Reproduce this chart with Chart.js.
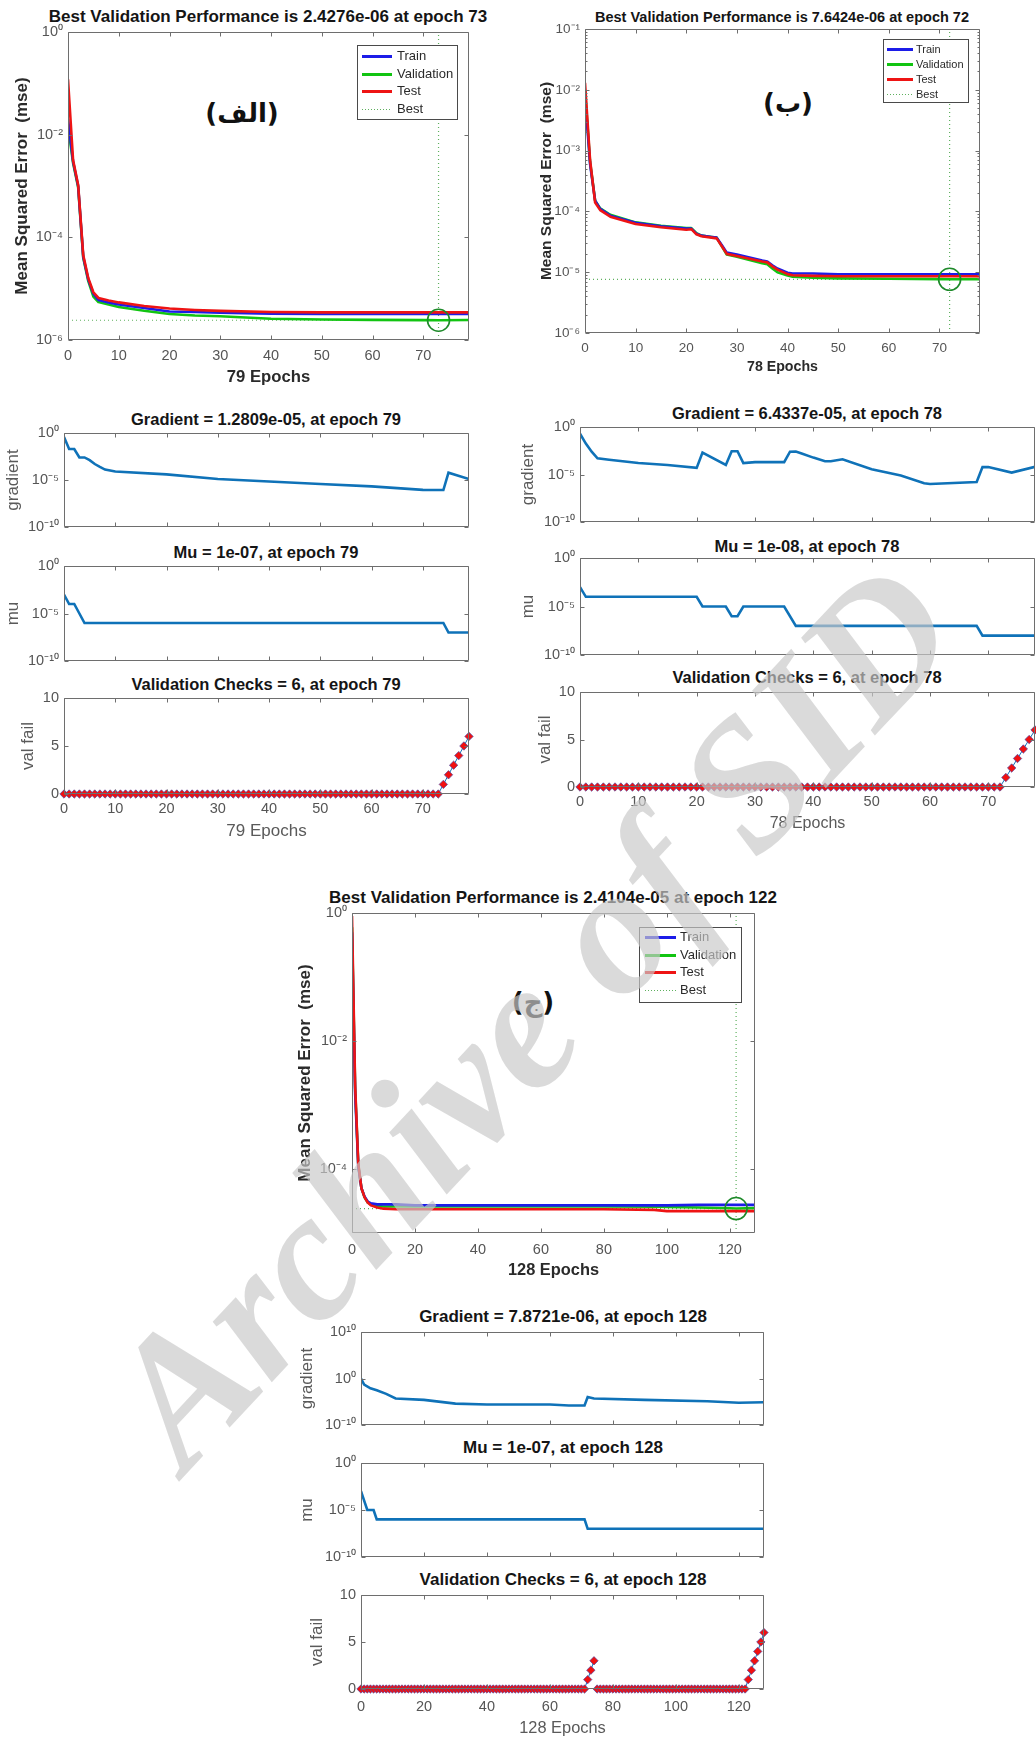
<!DOCTYPE html>
<html>
<head>
<meta charset="utf-8">
<script src="https://cdn.jsdelivr.net/npm/chart.js@4.4.0/dist/chart.umd.min.js"></script>
<style>
  body { margin: 0; background: #fff; }
  #page { position: relative; width: 1036px; height: 1738px; overflow: hidden; background: #fff;
          font-family: "Liberation Sans", Arial, sans-serif; }
  #page canvas { position: absolute; }
  .t { position: absolute; transform: translate(-50%, -50%); white-space: nowrap; font-weight: bold; color: #151515; }
  .tag { position: absolute; transform: translate(-50%, -50%); font-family: "DejaVu Sans", sans-serif;
         font-weight: bold; font-size: 26px; color: #111; white-space: nowrap; }
  #mark { position: absolute; left: 0; top: 0; pointer-events: none; }
</style>
</head>
<body>
<div id="page">
  <div class="t" style="left:268px;top:17px;font-size:17px">Best Validation Performance is 2.4276e-06 at epoch 73</div>
  <div class="t" style="left:782px;top:17px;font-size:14.5px">Best Validation Performance is 7.6424e-06 at epoch 72</div>
  <div class="t" style="left:553px;top:898px;font-size:17px">Best Validation Performance is 2.4104e-05 at epoch 122</div>

  <div class="t" style="left:266px;top:419px;font-size:16.5px">Gradient = 1.2809e-05, at epoch 79</div>
  <div class="t" style="left:266px;top:552px;font-size:16.5px">Mu = 1e-07, at epoch 79</div>
  <div class="t" style="left:266px;top:684px;font-size:16.5px">Validation Checks = 6, at epoch 79</div>

  <div class="t" style="left:807px;top:413px;font-size:16.5px">Gradient = 6.4337e-05, at epoch 78</div>
  <div class="t" style="left:807px;top:546px;font-size:16.5px">Mu = 1e-08, at epoch 78</div>
  <div class="t" style="left:807px;top:677px;font-size:16.5px">Validation Checks = 6, at epoch 78</div>

  <div class="t" style="left:563px;top:1317px;font-size:17px">Gradient = 7.8721e-06, at epoch 128</div>
  <div class="t" style="left:563px;top:1448px;font-size:17px">Mu = 1e-07, at epoch 128</div>
  <div class="t" style="left:563px;top:1580px;font-size:17px">Validation Checks = 6, at epoch 128</div>

  <div class="tag" style="left:242px;top:113px" dir="rtl">(الف)</div>
  <div class="tag" style="left:788px;top:103px" dir="rtl">(ب)</div>
  <div class="tag" style="left:533px;top:1002px" dir="rtl">(ج)</div>
</div>

<script>
// ---- (الف) performance, 79 epochs ----
const perfEpochsA = [0, 1, 2, 3, 4, 5, 6, 8, 10, 15, 20, 25, 30, 40, 50, 60, 70, 73, 79];
const perfTrainA = [2.0e-2, 3.0e-3, 1.0e-3, 4.2e-5, 1.5e-5, 8.0e-6, 6.0e-6, 5.4e-6, 4.9e-6, 4.2e-6, 3.6e-6, 3.5e-6, 3.4e-6, 3.25e-6, 3.2e-6, 3.2e-6, 3.2e-6, 3.2e-6, 3.2e-6];
const perfValA = [1.5e-2, 2.8e-3, 9.5e-4, 4.0e-5, 1.4e-5, 7.0e-6, 5.5e-6, 4.9e-6, 4.4e-6, 3.7e-6, 3.2e-6, 3.0e-6, 2.9e-6, 2.6e-6, 2.5e-6, 2.47e-6, 2.44e-6, 2.4276e-6, 2.45e-6];
const perfTestA = [1.2e-1, 3.2e-3, 1.05e-3, 4.5e-5, 1.6e-5, 8.5e-6, 6.6e-6, 5.9e-6, 5.4e-6, 4.6e-6, 4.1e-6, 3.85e-6, 3.7e-6, 3.5e-6, 3.45e-6, 3.45e-6, 3.45e-6, 3.45e-6, 3.45e-6];
const bestEpochA = 73;
const bestPerfA = 2.4276e-6;

// ---- (ب) performance, 78 epochs ----
const perfEpochsB = [0, 1, 2, 3, 5, 10, 15, 20, 21, 22, 23, 25, 26, 27, 28, 30, 35, 36, 37, 38, 40, 41, 45, 50, 60, 70, 72, 78];
const perfTrainB = [8e-3, 6e-4, 1.5e-4, 1.1e-4, 8.5e-5, 6.5e-5, 5.7e-5, 5.2e-5, 5.2e-5, 4.3e-5, 4.0e-5, 3.8e-5, 3.7e-5, 2.8e-5, 2.1e-5, 1.95e-5, 1.55e-5, 1.5e-5, 1.3e-5, 1.15e-5, 9.8e-6, 9.5e-6, 9.5e-6, 9.2e-6, 9.2e-6, 9.2e-6, 9.2e-6, 9.2e-6];
const perfValB = [1e-2, 6.5e-4, 1.5e-4, 1.12e-4, 8.8e-5, 6.6e-5, 5.8e-5, 5.3e-5, 5.3e-5, 4.4e-5, 4.0e-5, 3.8e-5, 3.7e-5, 2.7e-5, 1.95e-5, 1.8e-5, 1.4e-5, 1.35e-5, 1.15e-5, 1.0e-5, 8.8e-6, 8.4e-6, 8.1e-6, 7.9e-6, 7.8e-6, 7.7e-6, 7.6424e-6, 7.7e-6];
const perfTestB = [1.3e-2, 7e-4, 1.4e-4, 1.05e-4, 8.2e-5, 6.2e-5, 5.5e-5, 5.0e-5, 5.1e-5, 4.2e-5, 3.9e-5, 3.7e-5, 3.6e-5, 2.7e-5, 2.0e-5, 1.85e-5, 1.5e-5, 1.45e-5, 1.25e-5, 1.1e-5, 9.3e-6, 8.9e-6, 8.7e-6, 8.6e-6, 8.6e-6, 8.6e-6, 8.6e-6, 8.6e-6];
const bestEpochB = 72;
const bestPerfB = 7.6424e-6;

// ---- (ج) performance, 128 epochs ----
const perfEpochsC = [0, 1, 2, 3, 4, 5, 6, 8, 10, 14, 20, 40, 60, 80, 96, 100, 110, 120, 122, 128];
const perfTrainC = [0.5, 1.5e-3, 1.1e-4, 5e-5, 3.7e-5, 3.1e-5, 2.9e-5, 2.8e-5, 2.8e-5, 2.8e-5, 2.7e-5, 2.7e-5, 2.7e-5, 2.7e-5, 2.7e-5, 2.7e-5, 2.75e-5, 2.75e-5, 2.75e-5, 2.75e-5];
const perfValC = [0.6, 1.8e-3, 1.15e-4, 5e-5, 3.6e-5, 3.0e-5, 2.8e-5, 2.65e-5, 2.6e-5, 2.6e-5, 2.6e-5, 2.6e-5, 2.6e-5, 2.6e-5, 2.58e-5, 2.55e-5, 2.5e-5, 2.43e-5, 2.4104e-5, 2.45e-5];
const perfTestC = [0.9, 2e-3, 1.2e-4, 5e-5, 3.6e-5, 3.0e-5, 2.7e-5, 2.5e-5, 2.4e-5, 2.35e-5, 2.35e-5, 2.35e-5, 2.35e-5, 2.35e-5, 2.3e-5, 2.2e-5, 2.2e-5, 2.2e-5, 2.2e-5, 2.2e-5];
const bestEpochC = 122;
const bestPerfC = 2.4104e-5;

// ---- training state (الف) ----
const gradEpochsA = [0, 1, 2, 3, 4, 5, 6, 7, 8, 10, 20, 30, 40, 50, 60, 70, 73, 74, 75, 79];
const gradA = [0.37, 0.02, 0.02, 2.5e-3, 2.5e-3, 1.3e-3, 5e-4, 2.5e-4, 1.3e-4, 8e-5, 4e-5, 1.3e-5, 7e-6, 3.7e-6, 2.1e-6, 9e-7, 8.5e-7, 8.5e-7, 6e-5, 1.2809e-5];
const muEpochsA = [0, 1, 2, 3, 4, 74, 75, 79];
const muA = [1e-3, 1e-4, 1e-4, 1e-5, 1e-6, 1e-6, 1e-7, 1e-7];
const valFailA = [
  0,0,0,0,0,0,0,0,0,0, 0,0,0,0,0,0,0,0,0,0,
  0,0,0,0,0,0,0,0,0,0, 0,0,0,0,0,0,0,0,0,0,
  0,0,0,0,0,0,0,0,0,0, 0,0,0,0,0,0,0,0,0,0,
  0,0,0,0,0,0,0,0,0,0, 0,0,0,0,1,2,3,4,5,6
];

// ---- training state (ب) ----
const gradEpochsB = [0, 1, 2, 3, 5, 10, 15, 20, 21, 25, 26, 27, 28, 30, 35, 36, 37, 38, 40, 42, 43, 45, 50, 55, 59, 60, 68, 69, 70, 74, 78];
const gradB = [0.2, 0.018, 2.5e-3, 5e-4, 3.5e-4, 1.6e-4, 1e-4, 5e-5, 2e-3, 1e-4, 2.8e-3, 2.8e-3, 1.6e-4, 2e-4, 2e-4, 2.5e-3, 2.6e-3, 1.6e-3, 6e-4, 2.5e-4, 2.5e-4, 4e-4, 3.5e-5, 8e-6, 1.2e-6, 1e-6, 1.6e-6, 6e-5, 6e-5, 1.6e-5, 6.4337e-5];
const muEpochsB = [0, 1, 20, 21, 25, 26, 27, 28, 35, 37, 68, 69, 78];
const muB = [1e-3, 1e-4, 1e-4, 1e-5, 1e-5, 1e-6, 1e-6, 1e-5, 1e-5, 1e-7, 1e-7, 1e-8, 1e-8];
const valFailB = [
  0,0,0,0,0,0,0,0,0,0, 0,0,0,0,0,0,0,0,0,0,
  0,0,0,0,0,0,0,0,0,0, 0,0,0,0,0,0,0,0,0,0,
  0,0,0,0,0,0,0,0,0,0, 0,0,0,0,0,0,0,0,0,0,
  0,0,0,0,0,0,0,0,0,0, 0,0,0,1,2,3,4,5,6
];

// ---- training state (ج) ----
const gradEpochsC = [0, 1, 3, 5, 8, 11, 20, 30, 40, 60, 66, 71, 72, 74, 90, 110, 120, 128];
const gradC = [1, 0.05, 8e-3, 3e-3, 5e-4, 5e-5, 2.5e-5, 4e-6, 2.5e-6, 2.5e-6, 1.6e-6, 1.6e-6, 1e-4, 5e-5, 2.5e-5, 1.3e-5, 6e-6, 7.8721e-6];
const muEpochsC = [0, 1, 2, 4, 5, 71, 72, 128];
const muC = [1e-3, 1e-4, 1e-5, 1e-5, 1e-6, 1e-6, 1e-7, 1e-7];
const valFailC = [
  0,0,0,0,0,0,0,0,0,0, 0,0,0,0,0,0,0,0,0,0,
  0,0,0,0,0,0,0,0,0,0, 0,0,0,0,0,0,0,0,0,0,
  0,0,0,0,0,0,0,0,0,0, 0,0,0,0,0,0,0,0,0,0,
  0,0,0,0,0,0,0,0,0,0, 0,0,1,2,3,0,0,0,0,0,
  0,0,0,0,0,0,0,0,0,0, 0,0,0,0,0,0,0,0,0,0,
  0,0,0,0,0,0,0,0,0,0, 0,0,0,0,0,0,0,0,0,0,
  0,0,0,1,2,3,4,5,6
];

// ---- tick labels ----
const xTicks79 = [0, 10, 20, 30, 40, 50, 60, 70];
const xTicks128 = [0, 20, 40, 60, 80, 100, 120];
const perfTicksA = [1e-6, 1e-4, 1e-2, 1];
const perfTicksB = [1e-6, 1e-5, 1e-4, 1e-3, 1e-2, 1e-1];
const perfTicksC = [1e-4, 1e-2, 1];
const stateTicks = [1e-10, 1e-5, 1];
const gradTicksC = [1e-10, 1, 1e10];
const valTicks = [0, 5, 10];

const FONT = '"Liberation Sans", Arial, sans-serif';
const TRAIN = '#1c1ce8', VAL = '#12c412', TEST = '#ee1414', BEST = 'rgba(40,150,40,0.75)';
const BLUE = '#0f72b8', TICK = '#555', AXIS = '#6e6e6e';

const SUP = {'0':'\u2070','1':'\u00b9','2':'\u00b2','3':'\u00b3','4':'\u2074','5':'\u2075',
             '6':'\u2076','7':'\u2077','8':'\u2078','9':'\u2079','-':'\u207b'};
const pow10 = v => '10' + String(Math.round(Math.log10(v))).split('').map(c => SUP[c]).join('');

// box around the axes with inward ticks, like MATLAB
const matlabAxes = {
  id: 'matlabAxes',
  afterDatasetsDraw(chart, args, o) {
    const { ctx, chartArea: a, scales } = chart;
    const l = Math.round(a.left) + 0.5, r = Math.round(a.right) - 0.5;
    const t = Math.round(a.top) + 0.5, b = Math.round(a.bottom) - 0.5;
    ctx.save();
    ctx.strokeStyle = AXIS;
    ctx.lineWidth = 1;
    ctx.beginPath();
    ctx.rect(l, t, r - l, b - t);
    scales.x.ticks.forEach(tk => {
      const px = Math.round(scales.x.getPixelForValue(tk.value)) + 0.5;
      ctx.moveTo(px, b); ctx.lineTo(px, b - 4);
      ctx.moveTo(px, t); ctx.lineTo(px, t + 4);
    });
    scales.y.ticks.forEach(tk => {
      const py = Math.round(scales.y.getPixelForValue(tk.value)) + 0.5;
      ctx.moveTo(l, py); ctx.lineTo(l + 4, py);
      ctx.moveTo(r, py); ctx.lineTo(r - 4, py);
    });
    if (o.minor) {
      const lo = Math.round(Math.log10(scales.y.min)), hi = Math.round(Math.log10(scales.y.max));
      for (let e = lo; e < hi; e++) {
        for (let m = 2; m <= 9; m++) {
          const py = Math.round(scales.y.getPixelForValue(m * Math.pow(10, e))) + 0.5;
          ctx.moveTo(l, py); ctx.lineTo(l + 2, py);
          ctx.moveTo(r, py); ctx.lineTo(r - 2, py);
        }
      }
    }
    ctx.stroke();
    ctx.restore();
  }
};

// legend box drawn inside the axes
const mlLegend = {
  id: 'mlLegend',
  afterDraw(chart, args, o) {
    if (!o || !o.items) return;
    const { ctx, chartArea: a } = chart;
    const x = Math.round(a.left + o.x), y = Math.round(a.top + o.y);
    ctx.save();
    ctx.fillStyle = '#fff';
    ctx.fillRect(x, y, o.w, o.h);
    ctx.strokeStyle = '#4a4a4a';
    ctx.lineWidth = 1;
    ctx.strokeRect(x + 0.5, y + 0.5, o.w, o.h);
    ctx.font = o.font;
    ctx.textBaseline = 'middle';
    o.items.forEach((it, i) => {
      const cy = Math.round(y + o.first + i * o.rowH) + 0.5;
      ctx.beginPath();
      ctx.setLineDash(it.dash || []);
      ctx.strokeStyle = it.color;
      ctx.lineWidth = it.width;
      ctx.moveTo(x + o.sx, cy);
      ctx.lineTo(x + o.sx + o.sw, cy);
      ctx.stroke();
      ctx.setLineDash([]);
      ctx.fillStyle = '#2a2a2a';
      ctx.fillText(it.label, x + o.tx, cy);
    });
    ctx.restore();
  }
};

function legendItems() {
  return [
    { label: 'Train', color: TRAIN, width: 3 },
    { label: 'Validation', color: VAL, width: 3 },
    { label: 'Test', color: TEST, width: 3 },
    { label: 'Best', color: BEST, width: 1, dash: [1, 2] }
  ];
}

function pts(xs, ys) {
  return xs.map((x, i) => ({ x: x, y: ys[i] }));
}

function perfSets(ep, tr, va, te, bestEp, bestVal, xMax, yMin, yMax) {
  const line = { pointRadius: 0, borderWidth: 2.6, fill: false, tension: 0, borderJoinStyle: 'round' };
  return [
    { data: [{ x: bestEp, y: bestVal }], showLine: false, pointRadius: 11, pointStyle: 'circle',
      pointBorderColor: '#1e8a2a', pointBorderWidth: 1.6, pointBackgroundColor: 'rgba(0,0,0,0)', order: 0, clip: false },
    Object.assign({ data: pts(ep, te), borderColor: TEST, order: 1 }, line),
    Object.assign({ data: pts(ep, tr), borderColor: TRAIN, order: 2 }, line),
    Object.assign({ data: pts(ep, va), borderColor: VAL, order: 3 }, line),
    { data: [{ x: 0, y: bestVal }, { x: xMax, y: bestVal }], borderColor: BEST, borderWidth: 1.2,
      borderDash: [1, 3], pointRadius: 0, order: 4 },
    { data: [{ x: bestEp, y: yMin }, { x: bestEp, y: yMax }], borderColor: BEST, borderWidth: 1.2,
      borderDash: [1, 3], pointRadius: 0, order: 5 }
  ];
}

function stateLine(ep, vals) {
  return [{ data: pts(ep, vals), borderColor: BLUE, borderWidth: 2.6, pointRadius: 0, tension: 0 }];
}

function valFailSet(vals) {
  return [{
    data: vals.map((v, i) => ({ x: i, y: v })),
    borderColor: BLUE, borderWidth: 1, tension: 0, clip: false,
    // the reset back to zero is not drawn as a line in the original
    segment: { borderColor: c => (c.p1.parsed.y < c.p0.parsed.y ? 'rgba(0,0,0,0)' : BLUE) },
    pointStyle: 'rectRot', pointRadius: 4.2, pointBackgroundColor: '#f01010',
    pointBorderColor: '#4a4aa8', pointBorderWidth: 0.7
  }];
}

function makeChart(spec) {
  const [L, T, R, B] = spec.box;
  const ML = Math.round(spec.ml), MB = Math.round(spec.mb), MT = 14, MR = 14;
  const W = R - L + ML + MR, H = B - T + MT + MB;
  const cv = document.createElement('canvas');
  cv.width = W; cv.height = H;
  cv.style.left = (L - ML) + 'px';
  cv.style.top = (T - MT) + 'px';
  cv.style.width = W + 'px';
  cv.style.height = H + 'px';
  document.getElementById('page').appendChild(cv);

  const tickFont = { family: FONT, size: spec.tickSize || 14.5 };
  const isLog = spec.yType !== 'linear';

  new Chart(cv, {
    type: 'line',
    data: { datasets: spec.datasets },
    options: {
      responsive: false,
      animation: false,
      devicePixelRatio: 1,
      events: [],
      layout: { padding: { top: MT, right: MR, left: 0, bottom: 0 } },
      plugins: {
        legend: { display: false },
        tooltip: { enabled: false },
        matlabAxes: { minor: !!spec.minor },
        mlLegend: spec.legend || {}
      },
      scales: {
        x: {
          type: 'linear', min: 0, max: spec.xMax, bounds: 'data',
          afterBuildTicks: s => { s.ticks = spec.xTicks.map(v => ({ value: v })); },
          afterFit: s => { s.height = MB; },
          grid: { display: false, drawTicks: false },
          border: { display: false },
          ticks: { display: !!spec.xLabels, font: tickFont, color: TICK, padding: spec.xPad || 7,
                   maxRotation: 0, autoSkip: false },
          title: spec.xTitle ? {
            display: true, text: spec.xTitle, padding: 0,
            color: spec.xTitleBold ? '#2a2a2a' : '#5a5a5a',
            font: { family: FONT, size: spec.xTitleSize, weight: spec.xTitleBold ? 'bold' : 'normal' }
          } : { display: false }
        },
        y: {
          type: isLog ? 'logarithmic' : 'linear',
          min: spec.yMin, max: spec.yMax, bounds: 'data',
          afterBuildTicks: s => { s.ticks = spec.yTicks.map(v => ({ value: v })); },
          afterFit: s => { s.width = ML; },
          grid: { display: false, drawTicks: false },
          border: { display: false },
          ticks: { font: tickFont, color: TICK, padding: 5, autoSkip: false,
                   callback: v => isLog ? pow10(v) : String(v) },
          title: {
            display: true, text: spec.yTitle, padding: 0,
            color: spec.yTitleBold ? '#2a2a2a' : '#5a5a5a',
            font: { family: FONT, size: spec.yTitleSize, weight: spec.yTitleBold ? 'bold' : 'normal' }
          }
        }
      }
    },
    plugins: [matlabAxes, mlLegend]
  });
}

// ---------- performance plots ----------
makeChart({
  box: [68, 32, 469, 340], ml: 68 - (22 - 10.2), mb: 377 + 10 - 340,
  xMax: 79, xTicks: xTicks79, xLabels: true, xPad: 7,
  xTitle: '79 Epochs', xTitleSize: 16.7, xTitleBold: true,
  yMin: 1e-6, yMax: 1, yTicks: perfTicksA,
  yTitle: 'Mean Squared Error  (mse)', yTitleSize: 17, yTitleBold: true,
  datasets: perfSets(perfEpochsA, perfTrainA, perfValA, perfTestA, bestEpochA, bestPerfA, 79, 1e-6, 1),
  legend: { x: 289, y: 13, w: 100, h: 74, first: 11, rowH: 17.7, sx: 5, sw: 30, tx: 40,
            font: '13px ' + FONT, items: legendItems() }
});

makeChart({
  box: [585, 29, 980, 333], ml: 585 - (546 - 9.3), mb: 367 + 8.5 - 333,
  xMax: 78, xTicks: xTicks79, xLabels: true, xPad: 7, tickSize: 13.5,
  xTitle: '78 Epochs', xTitleSize: 14.2, xTitleBold: true,
  yMin: 1e-6, yMax: 1e-1, yTicks: perfTicksB, minor: true,
  yTitle: 'Mean Squared Error  (mse)', yTitleSize: 15.5, yTitleBold: true,
  datasets: perfSets(perfEpochsB, perfTrainB, perfValB, perfTestB, bestEpochB, bestPerfB, 78, 1e-6, 1e-1),
  legend: { x: 298, y: 10, w: 85, h: 63, first: 10, rowH: 15, sx: 4, sw: 26, tx: 33,
            font: '11px ' + FONT, items: legendItems() }
});

makeChart({
  box: [352, 913, 755, 1233], ml: 352 - (305 - 10.2), mb: 1270 + 9.8 - 1233,
  xMax: 128, xTicks: xTicks128, xLabels: true, xPad: 8,
  xTitle: '128 Epochs', xTitleSize: 16.4, xTitleBold: true,
  yMin: 1e-5, yMax: 1, yTicks: perfTicksC,
  yTitle: 'Mean Squared Error  (mse)', yTitleSize: 17, yTitleBold: true,
  datasets: perfSets(perfEpochsC, perfTrainC, perfValC, perfTestC, bestEpochC, bestPerfC, 128, 1e-5, 1),
  legend: { x: 287, y: 14, w: 102, h: 75, first: 10, rowH: 17.6, sx: 6, sw: 31, tx: 41,
            font: '13px ' + FONT, items: legendItems() }
});

// ---------- training state plots ----------
function statePanels(p) {
  makeChart({
    box: [p.L, p.grad[0], p.R, p.grad[1]], ml: p.L - (p.yLab - 10.2), mb: 14,
    xMax: p.xMax, xTicks: p.xTicks,
    yMin: p.gradMin, yMax: p.gradMax, yTicks: p.gradTicks, yTitle: 'gradient', yTitleSize: 17,
    datasets: stateLine(p.gradEp, p.gradV)
  });
  makeChart({
    box: [p.L, p.mu[0], p.R, p.mu[1]], ml: p.L - (p.yLab - 10.2), mb: 14,
    xMax: p.xMax, xTicks: p.xTicks,
    yMin: 1e-10, yMax: 1, yTicks: stateTicks, yTitle: 'mu', yTitleSize: 17,
    datasets: stateLine(p.muEp, p.muV)
  });
  makeChart({
    box: [p.L, p.val[0], p.R, p.val[1]], ml: p.L - (p.valLab - 10.2),
    mb: p.xTitleY + 0.6 * p.xTitleSize - p.val[1],
    xMax: p.xMax, xTicks: p.xTicks, xLabels: true, xPad: p.xPad,
    xTitle: p.xTitle, xTitleSize: p.xTitleSize,
    yType: 'linear', yMin: 0, yMax: 10, yTicks: valTicks, yTitle: 'val fail', yTitleSize: 17,
    datasets: valFailSet(p.valV)
  });
}

statePanels({
  L: 64, R: 469, grad: [433, 527], mu: [566, 661], val: [698, 794],
  yLab: 13, valLab: 28, xMax: 79, xTicks: xTicks79,
  gradMin: 1e-10, gradMax: 1, gradTicks: stateTicks,
  gradEp: gradEpochsA, gradV: gradA, muEp: muEpochsA, muV: muA, valV: valFailA,
  xTitle: '79 Epochs', xTitleY: 832, xTitleSize: 17, xPad: 6
});

statePanels({
  L: 580, R: 1035, grad: [427, 522], mu: [558, 655], val: [692, 787],
  yLab: 528, valLab: 545, xMax: 78, xTicks: xTicks79,
  gradMin: 1e-10, gradMax: 1, gradTicks: stateTicks,
  gradEp: gradEpochsB, gradV: gradB, muEp: muEpochsB, muV: muB, valV: valFailB,
  xTitle: '78 Epochs', xTitleY: 823, xTitleSize: 16, xPad: 6
});

statePanels({
  L: 361, R: 764, grad: [1332, 1425], mu: [1463, 1557], val: [1595, 1689],
  yLab: 307, valLab: 317, xMax: 128, xTicks: xTicks128,
  gradMin: 1e-10, gradMax: 1e10, gradTicks: gradTicksC,
  gradEp: gradEpochsC, gradV: gradC, muEp: muEpochsC, muV: muC, valV: valFailC,
  xTitle: '128 Epochs', xTitleY: 1728, xTitleSize: 16.4, xPad: 9
});

// watermark on top of everything
const page = document.getElementById('page');
const svgNS = 'http://www.w3.org/2000/svg';
const svg = document.createElementNS(svgNS, 'svg');
svg.setAttribute('id', 'mark');
svg.setAttribute('width', '1036');
svg.setAttribute('height', '1738');
const txt = document.createElementNS(svgNS, 'text');
txt.setAttribute('x', '576');
txt.setAttribute('y', '1056');
txt.setAttribute('text-anchor', 'middle');
txt.setAttribute('transform', 'rotate(-47 576 1056)');
txt.setAttribute('font-family', '"Liberation Serif", "DejaVu Serif", serif');
txt.setAttribute('font-weight', 'bold');
txt.setAttribute('font-style', 'italic');
txt.setAttribute('font-size', '184');
txt.setAttribute('fill', 'rgb(200,200,200)');
txt.setAttribute('fill-opacity', '0.68');
txt.textContent = 'Archive of SID';
svg.appendChild(txt);
page.appendChild(svg);
</script>
</body>
</html>
